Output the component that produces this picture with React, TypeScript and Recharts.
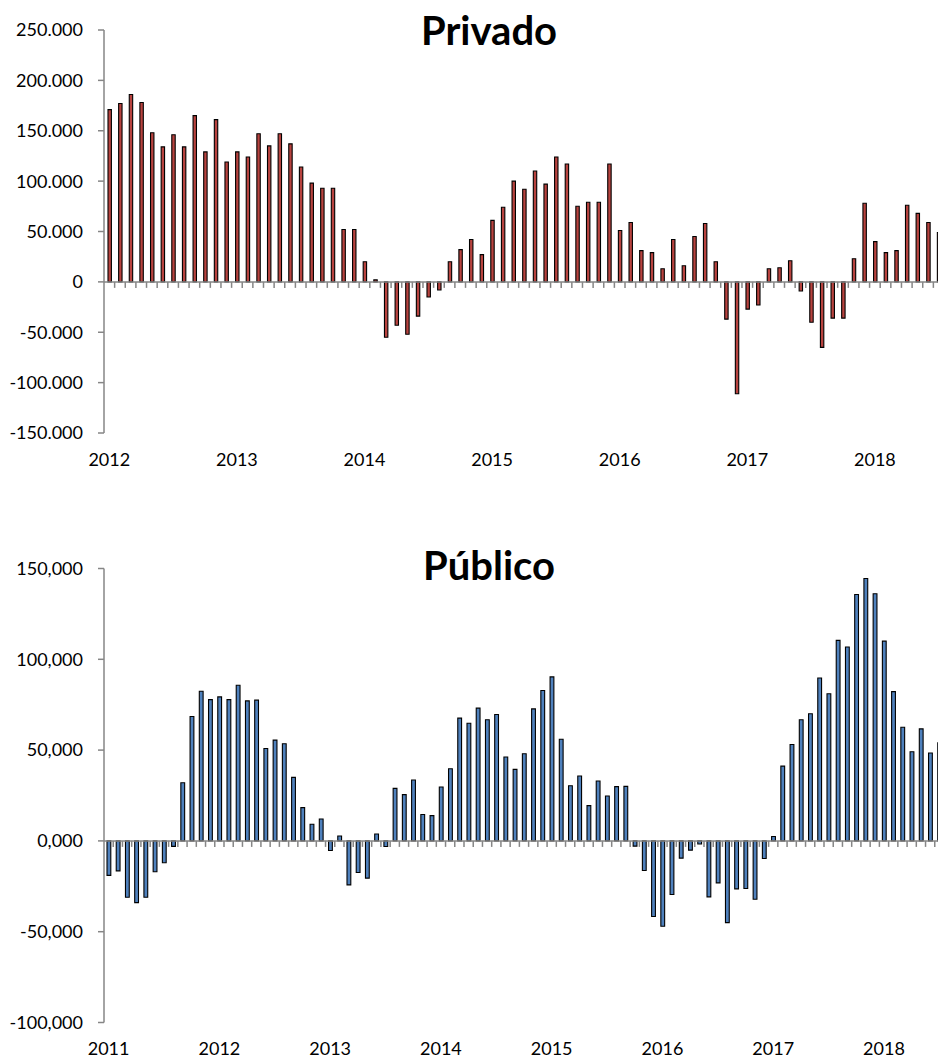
import React from 'react';
import { BarChart, Bar, XAxis, YAxis, ReferenceLine } from 'recharts';

// values in thousands, one per month
const privadoYears = ['2012', '2013', '2014', '2015', '2016', '2017', '2018'];
const privadoValues = [
  171, 177, 186, 178, 148, 134, 146, 134, 165, 129, 161, 119,
  129, 124, 147, 135, 147, 137, 114, 98, 93, 93, 52, 52,
  20, 2, -55, -43, -52, -34, -15, -8, 20, 32, 42, 27,
  61, 74, 100, 92, 110, 97, 124, 117, 75, 79, 79, 117,
  51, 59, 31, 29, 13, 42, 16, 45, 58, 20, -37, -111,
  -27, -23, 13, 14, 21, -9, -40, -65, -36, -36, 23, 78,
  40, 29, 31, 76, 68, 59, 49,
];
const privadoTicks = [-150, -100, -50, 0, 50, 100, 150, 200, 250];

const publicoYears = ['2011', '2012', '2013', '2014', '2015', '2016', '2017', '2018'];
const publicoValues = [
  -19, -16.5, -31, -34, -31, -17, -12, -3, 32, 68.5, 82.4, 77.8,
  79.3, 77.8, 85.7, 77.1, 77.5, 50.9, 55.5, 53.5, 35, 18.3, 9.2, 12.1,
  -5.3, 2.7, -24.2, -17.4, -20.5, 3.8, -3.1, 28.9, 25.5, 33.5, 14.5, 13.9,
  29.7, 39.7, 67.6, 64.8, 73.1, 66.7, 69.6, 46.2, 39.4, 48, 72.7, 82.8,
  90.3, 56, 30.4, 35.7, 19.4, 33, 24.7, 29.9, 30, -2.9, -16.3, -41.6,
  -47, -29.5, -9.5, -5.1, -1.7, -30.8, -23.1, -45, -26.4, -26.2, -32.1, -9.7,
  2.4, 41.2, 53.1, 66.7, 70, 89.7, 81, 110.4, 106.8, 135.7, 144.5, 136.1,
  110, 82.2, 62.6, 49.1, 61.7, 48.4, 54,
];
const publicoTicks = [-100, -50, 0, 50, 100, 150];

const monthNames = ['01', '02', '03', '04', '05', '06', '07', '08', '09', '10', '11', '12'];

const AXIS = '#868686';

const buildRows = (years: string[], values: number[]) =>
  values.map((value, i) => ({
    month: `${Number(years[0]) + Math.floor(i / 12)}-${monthNames[i % 12]}`,
    value,
  }));

// zero line with a small tick under every category boundary
const zeroAxis = (count: number) => (props: any) => {
  const { x1, x2, y1 } = props;
  const step = (x2 - x1) / count;
  const marks = [];
  for (let i = 1; i <= count; i++) {
    const x = x1 + i * step;
    marks.push(<line key={i} x1={x} x2={x} y1={y1} y2={y1 + 6} />);
  }
  return (
    <g stroke={AXIS} strokeWidth={1.5}>
      <line x1={x1} x2={x2} y1={y1} y2={y1} />
      {marks}
    </g>
  );
};

const tickStyle = { fontSize: 18, fill: '#000' };

const titleStyle: React.CSSProperties = {
  position: 'absolute',
  left: 0,
  width: 978,
  textAlign: 'center',
  fontSize: 40,
  fontWeight: 700,
  lineHeight: '40px',
  color: '#000',
};

const privadoRows = buildRows(privadoYears, privadoValues);
const publicoRows = buildRows(publicoYears, publicoValues);

export default function App() {
  return (
    <div
      style={{
        position: 'absolute',
        left: 0,
        top: 0,
        width: 938,
        height: 1061,
        overflow: 'hidden',
        background: '#fff',
        fontFamily: 'Lato, sans-serif',
      }}
    >
      <div style={{ position: 'absolute', left: 0, top: 0 }}>
        <BarChart width={952} height={480} data={privadoRows} margin={{ top: 30, right: 8, bottom: 7, left: 0 }}>
          <XAxis
            dataKey="month"
            ticks={privadoYears.map((y) => `${y}-01`)}
            tickFormatter={(v: string) => v.slice(0, 4)}
            interval={0}
            axisLine={false}
            tickLine={false}
            tickSize={0}
            tickMargin={20}
            height={40}
            tick={tickStyle}
          />
          <YAxis
            type="number"
            domain={[-150, 250]}
            ticks={privadoTicks}
            interval={0}
            width={104}
            tickSize={6}
            tickMargin={15}
            tickFormatter={(v: number) => (v === 0 ? '0' : `${v}.000`)}
            axisLine={{ stroke: AXIS, strokeWidth: 1.5 }}
            tickLine={{ stroke: AXIS, strokeWidth: 1.5 }}
            tick={tickStyle}
          />
          <Bar dataKey="value" fill="#B8433F" stroke="#000" strokeWidth={1.1} barSize={3.4} isAnimationActive={false} />
          <ReferenceLine y={0} shape={zeroAxis(privadoValues.length)} />
        </BarChart>
      </div>
      <div style={{ ...titleStyle, top: 9.5 }}>Privado</div>

      <div style={{ position: 'absolute', left: 0, top: 530 }}>
        <BarChart width={952} height={528.5} data={publicoRows} margin={{ top: 38.5, right: 8, bottom: 0, left: 0 }}>
          <XAxis
            dataKey="month"
            ticks={publicoYears.map((y) => `${y}-01`)}
            tickFormatter={(v: string) => v.slice(0, 4)}
            interval={0}
            axisLine={false}
            tickLine={false}
            tickSize={0}
            tickMargin={20}
            height={36}
            tick={tickStyle}
          />
          <YAxis
            type="number"
            domain={[-100, 150]}
            ticks={publicoTicks}
            interval={0}
            width={104}
            tickSize={6}
            tickMargin={15}
            tickFormatter={(v: number) => `${v},000`}
            axisLine={{ stroke: AXIS, strokeWidth: 1.5 }}
            tickLine={{ stroke: AXIS, strokeWidth: 1.5 }}
            tick={tickStyle}
          />
          <Bar dataKey="value" fill="#4F81BD" stroke="#000" strokeWidth={1.1} barSize={3.8} isAnimationActive={false} />
          <ReferenceLine y={0} shape={zeroAxis(publicoValues.length)} />
        </BarChart>
      </div>
      <div style={{ ...titleStyle, top: 544.5 }}>Público</div>
    </div>
  );
}
